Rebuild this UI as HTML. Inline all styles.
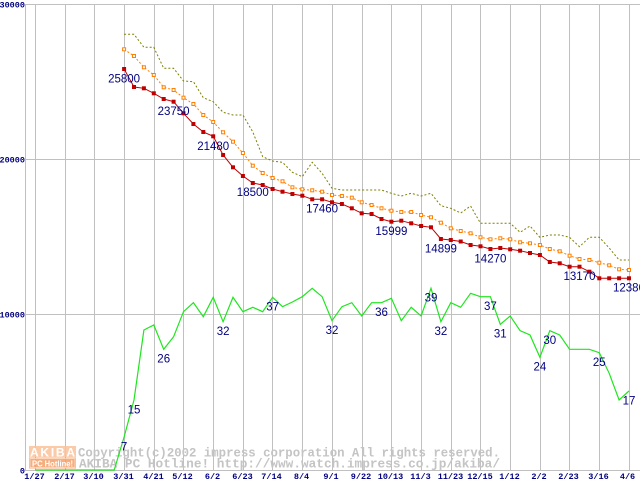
<!DOCTYPE html>
<html><head><meta charset="utf-8"><style>
html,body{margin:0;padding:0;background:#fff;}
svg{display:block;}
.ax{font-family:"Liberation Mono",monospace;font-weight:bold;font-size:8.5px;fill:#000080;}
.lb{font-family:"Liberation Sans",sans-serif;font-size:11.5px;fill:#000080;text-anchor:middle;}
.cp{font-family:"Liberation Mono",monospace;font-weight:bold;font-size:13px;fill:#c4c4c4;}
</style></head><body>
<svg width="640" height="480" viewBox="0 0 640 480" xmlns="http://www.w3.org/2000/svg">
<defs>
<marker id="mr" markerUnits="userSpaceOnUse" markerWidth="6" markerHeight="6" refX="3" refY="3" overflow="visible"><rect x="1" y="1" width="4" height="4" fill="#c00000" stroke="none"/></marker>
<marker id="mo" markerUnits="userSpaceOnUse" markerWidth="6" markerHeight="6" refX="3" refY="3" overflow="visible"><rect x="1.5" y="1.5" width="3" height="3" fill="#fff" stroke="#ff8000" stroke-width="1" stroke-dasharray="none"/></marker>
</defs>
<rect width="640" height="480" fill="#fff"/>
<g stroke="#c0c0c0" stroke-width="1" shape-rendering="crispEdges">
<line x1="25.5" y1="4" x2="25.5" y2="471"/>
<line x1="25" y1="4.5" x2="640" y2="4.5"/>
<line x1="25" y1="159.5" x2="640" y2="159.5"/>
<line x1="25" y1="314.5" x2="640" y2="314.5"/>
<line x1="25" y1="470.5" x2="640" y2="470.5"/>
<line x1="35.5" y1="4" x2="35.5" y2="471"/>
<line x1="65.5" y1="4" x2="65.5" y2="471"/>
<line x1="94.5" y1="4" x2="94.5" y2="471"/>
<line x1="124.5" y1="4" x2="124.5" y2="471"/>
<line x1="154.5" y1="4" x2="154.5" y2="471"/>
<line x1="183.5" y1="4" x2="183.5" y2="471"/>
<line x1="213.5" y1="4" x2="213.5" y2="471"/>
<line x1="243.5" y1="4" x2="243.5" y2="471"/>
<line x1="272.5" y1="4" x2="272.5" y2="471"/>
<line x1="302.5" y1="4" x2="302.5" y2="471"/>
<line x1="332.5" y1="4" x2="332.5" y2="471"/>
<line x1="362.5" y1="4" x2="362.5" y2="471"/>
<line x1="391.5" y1="4" x2="391.5" y2="471"/>
<line x1="421.5" y1="4" x2="421.5" y2="471"/>
<line x1="451.5" y1="4" x2="451.5" y2="471"/>
<line x1="480.5" y1="4" x2="480.5" y2="471"/>
<line x1="510.5" y1="4" x2="510.5" y2="471"/>
<line x1="540.5" y1="4" x2="540.5" y2="471"/>
<line x1="569.5" y1="4" x2="569.5" y2="471"/>
<line x1="599.5" y1="4" x2="599.5" y2="471"/>
<line x1="629.5" y1="4" x2="629.5" y2="471"/>
</g>
<!-- logo -->
<g opacity="0.85">
<rect x="29" y="446" width="47" height="11" fill="#fbc39b"/>
<rect x="29" y="457.5" width="47" height="11" fill="#f5a06a"/>
<rect x="30" y="458.5" width="45" height="9" fill="none" stroke="#fbd0b0" stroke-width="1"/>
</g>
<text x="30" y="456.3" font-family="Liberation Sans,sans-serif" font-weight="bold" font-size="12" fill="#fff" textLength="45" lengthAdjust="spacing">AKIBA</text>
<text x="32" y="466.3" font-family="Liberation Sans,sans-serif" font-weight="bold" font-size="8" fill="#fff" textLength="41" lengthAdjust="spacingAndGlyphs">PC Hotline!</text>
<!-- copyright -->
<text class="cp" x="78" y="456.7" textLength="422" lengthAdjust="spacingAndGlyphs">Copyright(c)2002 impress corporation All rights reserved.</text>
<text class="cp" x="79" y="467.7" textLength="421" lengthAdjust="spacingAndGlyphs">AKIBA PC Hotline!  http://www.watch.impress.co.jp/akiba/</text>
<!-- olive -->
<polyline fill="none" stroke="#808000" stroke-width="1" stroke-dasharray="2,2" points="124.1,34.3 134,34.3 143.9,47.3 153.8,47.3 163.7,68.3 173.6,68.3 183.5,81 193.4,81.7 203.3,97.7 213.2,101.7 223.1,112.3 233,115 242.9,115 252.8,132 262.7,156.7 272.6,161 282.5,162.3 292.4,172.3 302.3,176.7 312.2,162.3 322.1,173.3 332,188.3 341.9,190 351.8,190 361.7,190 371.6,190 381.5,190 391.4,193.3 401.3,196 411.2,193.3 421.1,196 431,193.3 440.9,205.7 450.8,208.3 460.7,213 470.6,206 480.5,223.3 490.4,223.3 500.3,223.3 510.2,223.3 520.1,232.3 530,226 539.9,237.3 549.8,235 559.7,235 569.6,237.3 579.5,246.7 589.4,237.3 599.3,237.3 609.2,248 619.1,260 629,260"/>
<!-- orange -->
<polyline fill="none" stroke="#ff8000" stroke-width="1" stroke-dasharray="2,2" marker-start="url(#mo)" marker-mid="url(#mo)" marker-end="url(#mo)" points="124.1,49.3 134,56 143.9,67.3 153.8,75 163.7,87.3 173.6,90 183.5,97.7 193.4,104 203.3,115 213.2,122 223.1,132.3 233,141.7 242.9,153 252.8,165.7 262.7,173 272.6,178 282.5,181.3 292.4,187.3 302.3,189.3 312.2,190.3 322.1,191.7 332,195 341.9,196 351.8,197.7 361.7,202.3 371.6,205 381.5,208.3 391.4,210.7 401.3,212 411.2,212 421.1,215 431,217.3 440.9,222.7 450.8,228.3 460.7,231 470.6,233.3 480.5,237.3 490.4,239.3 500.3,238.3 510.2,239.3 520.1,242.3 530,243.3 539.9,245 549.8,249 559.7,251.3 569.6,255.7 579.5,259 589.4,260 599.3,262.7 609.2,265.3 619.1,269.3 629,270"/>
<!-- red -->
<polyline fill="none" stroke="#c00000" stroke-width="1" marker-start="url(#mr)" marker-mid="url(#mr)" marker-end="url(#mr)" points="124.1,69 134,87 143.9,88.3 153.8,93.3 163.7,99 173.6,101.7 183.5,113.3 193.4,124 203.3,132 213.2,136.3 223.1,155 233,167.3 242.9,176 252.8,183 262.7,185 272.6,189 282.5,191.7 292.4,194 302.3,195.7 312.2,199.3 322.1,199.3 332,202.3 341.9,204 351.8,208.3 361.7,213.3 371.6,214 381.5,219 391.4,221.7 401.3,220.7 411.2,223.3 421.1,226 431,227.3 440.9,239 450.8,240 460.7,241.5 470.6,245 480.5,246.3 490.4,249 500.3,248 510.2,249.3 520.1,250.7 530,253 539.9,255 549.8,262 559.7,263.3 569.6,266.7 579.5,266.7 589.4,271.7 599.3,278.3 609.2,278.3 619.1,278.3 629,278.3"/>
<!-- green -->
<polyline fill="none" stroke="#1ee61e" stroke-width="1.2" points="35,470 114.2,470 124.1,437 134,400 143.9,330 153.8,325 163.7,349.3 173.6,336.7 183.5,311.7 193.4,302.7 203.3,316.7 213.2,297.3 223.1,321.7 233,297.3 242.9,311.7 252.8,307.3 262.7,311.7 272.6,297.3 282.5,306.7 292.4,302 302.3,296.7 312.2,288.3 322.1,296.7 332,320.7 341.9,306.7 351.8,302.7 361.7,316 371.6,302.7 381.5,302.7 391.4,298.3 401.3,320.7 411.2,307.3 421.1,316 431,288.3 440.9,321.7 450.8,302.7 460.7,307.3 470.6,293.3 480.5,296.7 490.4,296.7 500.3,324.3 510.2,316 520.1,330.7 530,335 539.9,357.3 549.8,330.7 559.7,335 569.6,349.3 579.5,349.3 589.4,349.3 599.3,352.7 609.2,373.3 619.1,400 629,391"/>
<!-- price labels -->
<g class="lb">
<text x="124.1" y="82.5">25800</text>
<text x="173.6" y="115">23750</text>
<text x="213.2" y="150">21480</text>
<text x="252.8" y="196">18500</text>
<text x="322.1" y="212.6">17460</text>
<text x="391.4" y="235">15999</text>
<text x="440.9" y="252.3">14899</text>
<text x="490.4" y="262.3">14270</text>
<text x="579.5" y="280">13170</text>
<text x="629" y="291.6">12380</text>
<text x="124.1" y="450.3">7</text>
<text x="134" y="413.3">15</text>
<text x="163.7" y="362.6">26</text>
<text x="223.1" y="335">32</text>
<text x="272.6" y="310.6">37</text>
<text x="332" y="334">32</text>
<text x="381.5" y="316">36</text>
<text x="431" y="301.6">39</text>
<text x="440.9" y="335">32</text>
<text x="490.4" y="310">37</text>
<text x="500.3" y="337.6">31</text>
<text x="539.9" y="370.6">24</text>
<text x="549.8" y="344">30</text>
<text x="599.3" y="366">25</text>
<text x="629" y="404.3">17</text>
</g>
<!-- y axis labels -->
<g class="ax" text-anchor="end">
<text x="25" y="7.3">30000</text>
<text x="25" y="162.3">20000</text>
<text x="25" y="317.5">10000</text>
<text x="25" y="473.3">0</text>
</g>
<!-- x axis labels -->
<g class="ax" text-anchor="middle">
<text x="34.5" y="479">1/27</text>
<text x="64.5" y="479">2/17</text>
<text x="93.5" y="479">3/10</text>
<text x="123.5" y="479">3/31</text>
<text x="153.5" y="479">4/21</text>
<text x="182.5" y="479">5/12</text>
<text x="212.5" y="479">6/2</text>
<text x="242.5" y="479">6/23</text>
<text x="271.5" y="479">7/14</text>
<text x="301.5" y="479">8/4</text>
<text x="331" y="479">9/1</text>
<text x="361" y="479">9/22</text>
<text x="390.5" y="479">10/13</text>
<text x="420.5" y="479">11/3</text>
<text x="450.5" y="479">11/23</text>
<text x="480" y="479">12/15</text>
<text x="509.5" y="479">1/12</text>
<text x="539" y="479">2/2</text>
<text x="568.5" y="479">2/23</text>
<text x="598.5" y="479">3/16</text>
<text x="627.5" y="479">4/6</text>
</g>
</svg>
</body></html>
